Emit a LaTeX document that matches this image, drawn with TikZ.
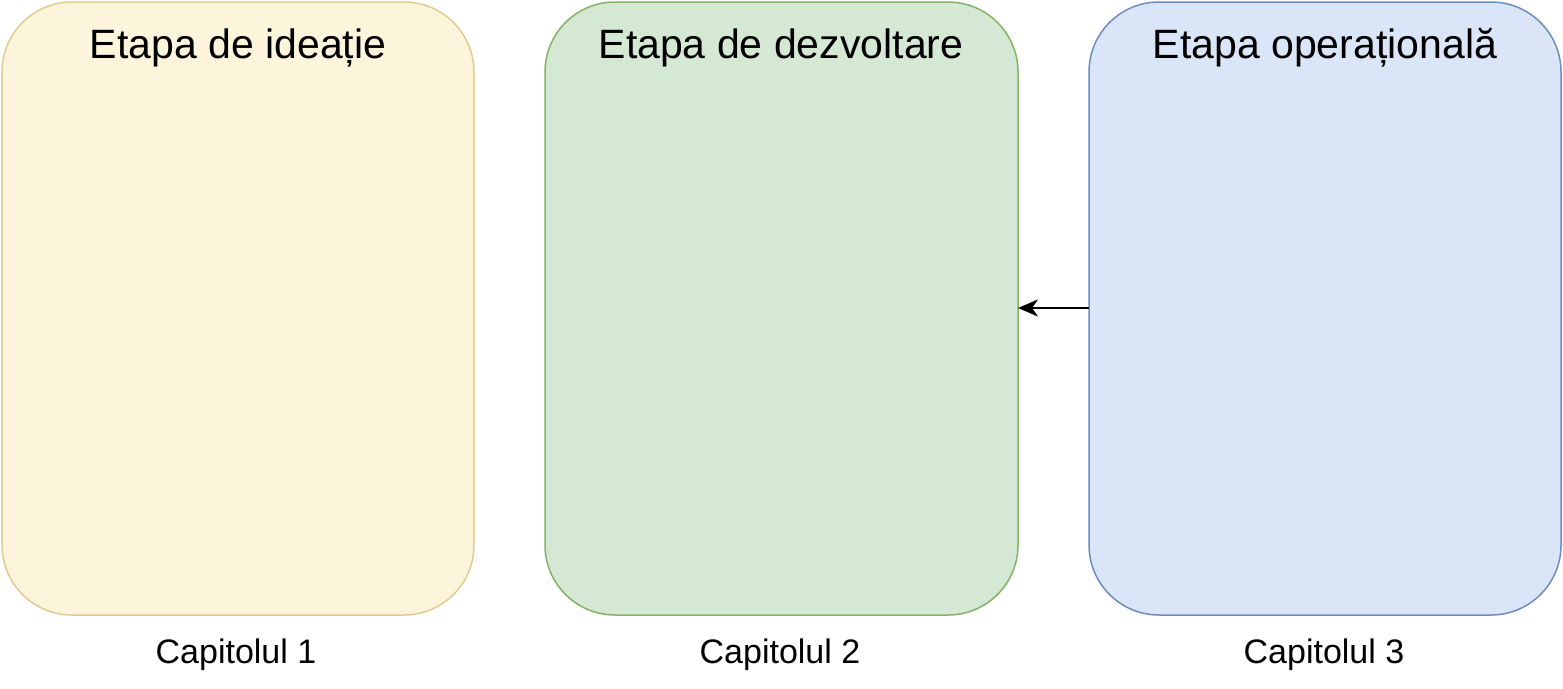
\documentclass[tikz,border=0pt]{standalone}
\usepackage{fontspec}
\setmainfont{Liberation Sans}
\usetikzlibrary{arrows.meta}
\definecolor{yf}{HTML}{FDF4DC}\definecolor{yd}{HTML}{E0CC8E}
\definecolor{gf}{HTML}{D5E8D4}\definecolor{gd}{HTML}{82B366}
\definecolor{bf}{HTML}{DAE6F8}\definecolor{bd}{HTML}{6C8EBF}
\begin{document}
\begin{tikzpicture}[x=1pt,y=-1pt,
  box/.style={rounded corners=70pt,line width=1.5pt},
  title/.style={font=\fontsize{41}{45}\selectfont,anchor=base},
  captxt/.style={font=\fontsize{34}{38}\selectfont,anchor=base}]
\useasboundingbox (0,0) rectangle (1563,688);
\draw[box,fill=yf,draw=yd] (2,2) rectangle (474,615);
\draw[box,fill=gf,draw=gd] (545,2) rectangle (1018,615);
\draw[box,fill=bf,draw=bd] (1089,2) rectangle (1561,615);
\coordinate (b2) at (1018,308);
\coordinate (b3) at (1089,308);
\node[title] (t1) at (238,58) {Etapa de ideație};
\node[title] (t2) at (781,58) {Etapa de dezvoltare};
\node[title] (t3) at (1325,58) {Etapa operațională};
\node[captxt] (c1) at (236,663) {Capitolul 1};
\node[captxt] (c2) at (780,663) {Capitolul 2};
\node[captxt] (c3) at (1324,663) {Capitolul 3};
\draw[-{Stealth[length=20pt,width=17pt,inset=6pt]},line width=2pt] (b3) -- (b2);
\end{tikzpicture}
\end{document}
